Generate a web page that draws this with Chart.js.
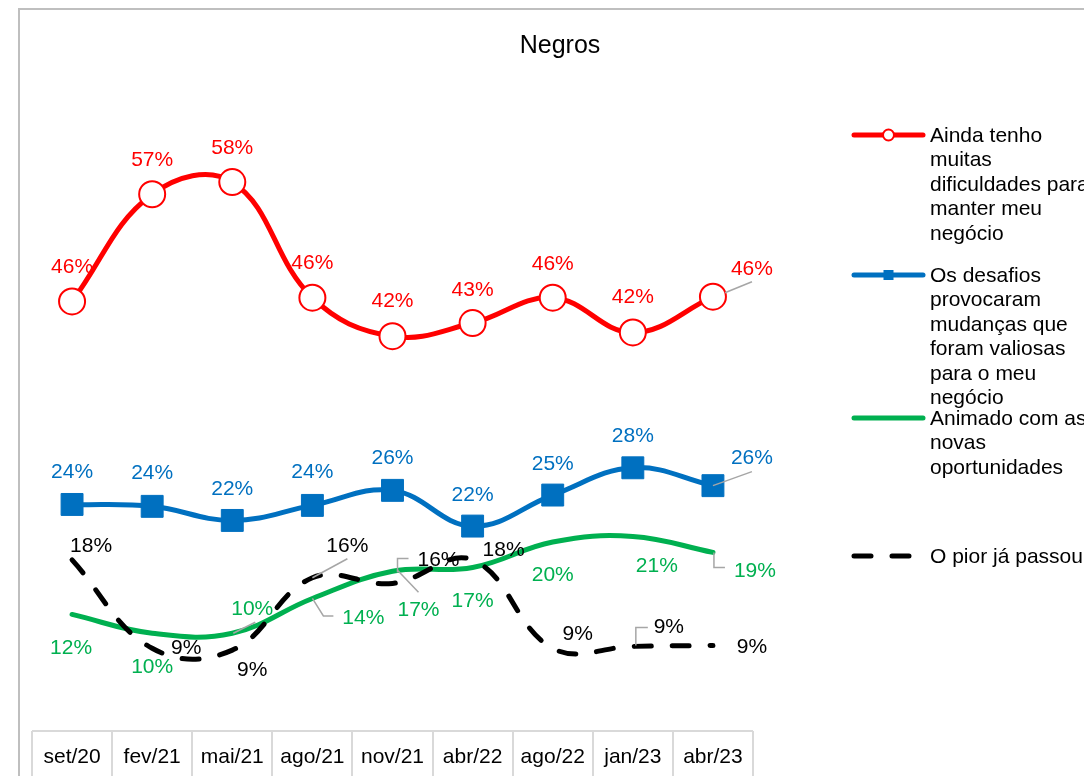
<!DOCTYPE html>
<html>
<head>
<meta charset="utf-8">
<script src="https://cdn.jsdelivr.net/npm/chart.js@4/dist/chart.umd.min.js"></script>
<style>
html,body{margin:0;padding:0;background:#fff;}
#wrap{width:1084px;height:776px;position:relative;overflow:hidden;}
canvas{display:block;}
</style>
</head>
<body>
<div id="wrap"><canvas id="c" width="1084" height="776"></canvas></div>
<script>
// ---- data ----
const categories = ['set/20','fev/21','mai/21','ago/21','nov/21','abr/22','ago/22','jan/23','abr/23'];
const aindaDificuldades = [45.7, 57.1, 58.4, 46.1, 42.0, 43.4, 46.1, 42.4, 46.2];
const desafiosValiosos  = [24.1, 23.9, 22.4, 24.0, 25.6, 21.8, 25.1, 28.0, 26.1];
const animadoOportun    = [12.4, 10.4, 10.4, 14.1, 17.0, 17.4, 20.1, 20.7, 19.0];
const piorJaPassou      = [18.2, 8.8, 8.6, 16.3, 15.7, 18.2, 8.8, 9.0, 9.1];
const seriesNames = [
  'Ainda tenho muitas dificuldades para manter meu negócio',
  'Os desafios provocaram mudanças que foram valiosas para o meu negócio',
  'Animado com as novas oportunidades',
  'O pior já passou'
];
const legendLines = [
  ['Ainda tenho','muitas','dificuldades para','manter meu','negócio'],
  ['Os desafios','provocaram','mudanças que','foram valiosas','para o meu','negócio'],
  ['Animado com as','novas','oportunidades'],
  ['O pior já passou']
];
const chartTitle = 'Negros';

// ---- styles / label layout ----
const colors = ['#FF0000', '#0070C0', '#00B050', '#000000'];
const FONT = '"Liberation Sans", Arial, sans-serif';
const leaderColor = '#A6A6A6';
// per series, per point: [dx, dy] of label centre from point, optional leader (list of [dx,dy] from point)
const labelLayout = [
  { off: [[0,-36],[0,-36],[0,-36],[0,-36],[0,-37],[0,-35],[0,-35],[0,-37],[39,-30]],
    lead: {8: [[12,-4],[39,-15]]} },
  { off: [[0,-34],[0,-35],[0,-33],[0,-35],[0,-34],[0,-33],[0,-33],[0,-34],[39,-29]],
    lead: {8: [[0,0],[39,-14]]} },
  { off: [[-1,32],[0,32],[20,-26],[51,18],[26,37],[0,32],[0,31],[24,28],[42,17]],
    lead: {2: [[1,0],[23,-11]], 3: [[0,0],[11,17.5],[21,17.5]], 4: [[5,-1],[26,21]], 8: [[1,0],[1,15],[12,15]]} },
  { off: [[19,-16],[34,-2],[20,18],[35,-34],[46,-25],[31,-12],[25,-16],[36,-21],[39,0]],
    lead: {3: [[0,0],[35,-19]], 4: [[5,-11],[5,-25],[16,-25]], 7: [[3,-1],[3,-19],[15,-19]]} }
];

const decorPlugin = {
  id: 'decor',
  afterDatasetsDraw(chart) {
    const ctx = chart.ctx;
    const xs = chart.scales.x, ys = chart.scales.y;
    ctx.save();
    chart.data.datasets.forEach((ds, si) => {
      const lay = labelLayout[si];
      ds.data.forEach((v, i) => {
        const px = xs.getPixelForValue(i), py = ys.getPixelForValue(v);
        const lead = lay.lead[i];
        if (lead) {
          ctx.strokeStyle = leaderColor; ctx.lineWidth = 1.5; ctx.setLineDash([]);
          ctx.beginPath();
          lead.forEach((p, k) => { if (k === 0) ctx.moveTo(px + p[0], py + p[1]); else ctx.lineTo(px + p[0], py + p[1]); });
          ctx.stroke();
        }
        const o = lay.off[i];
        ctx.fillStyle = colors[si];
        ctx.font = '21px ' + FONT;
        ctx.textAlign = 'center'; ctx.textBaseline = 'middle';
        ctx.fillText(Math.round(v) + '%', px + o[0], py + o[1] + 2);
      });
    });
    ctx.restore();
  },
  afterDraw(chart) {
    const ctx = chart.ctx;
    const xs = chart.scales.x, ca = chart.chartArea;
    ctx.save();
    // outer border
    ctx.strokeStyle = '#BFBFBF'; ctx.lineWidth = 2;
    ctx.strokeRect(19, 9, 1200, 900);
    // title
    ctx.fillStyle = '#000'; ctx.font = '25px ' + FONT;
    ctx.textAlign = 'center'; ctx.textBaseline = 'middle';
    ctx.fillText(chartTitle, 560, 46);
    // data table (category axis)
    const n = categories.length;
    const w = (ca.right - ca.left) / n;
    const top = ca.bottom;
    ctx.strokeStyle = '#D9D9D9'; ctx.lineWidth = 2;
    ctx.beginPath();
    ctx.moveTo(ca.left, top); ctx.lineTo(ca.right, top);
    for (let k = 0; k <= n; k++) {
      const x = Math.round(ca.left + k * w);
      ctx.moveTo(x, top); ctx.lineTo(x, 790);
    }
    ctx.stroke();
    ctx.fillStyle = '#000'; ctx.font = '21px ' + FONT;
    categories.forEach((c, i) => ctx.fillText(c, xs.getPixelForValue(i), top + 26));
    // legend
    const lx0 = 852, lx1 = 925, tx = 930, lh = 24.5;
    const ly = [135, 275, 418, 556];
    chart.data.datasets.forEach((ds, si) => {
      const y = ly[si];
      ctx.strokeStyle = colors[si]; ctx.lineWidth = 5; ctx.lineCap = 'round';
      ctx.setLineDash(ds.borderDash || []);
      ctx.beginPath(); ctx.moveTo(lx0 + 2, y); ctx.lineTo(lx1 - 2, y); ctx.stroke();
      ctx.setLineDash([]);
      const mx = (lx0 + lx1) / 2;
      if (si === 0) {
        ctx.fillStyle = '#fff'; ctx.lineWidth = 2;
        ctx.beginPath(); ctx.arc(mx, y, 5.5, 0, Math.PI * 2); ctx.fill(); ctx.stroke();
      } else if (si === 1) {
        ctx.fillStyle = colors[1]; ctx.fillRect(mx - 5, y - 5, 10, 10);
      }
      ctx.fillStyle = '#000'; ctx.font = '21px ' + FONT;
      ctx.textAlign = 'left'; ctx.textBaseline = 'middle';
      legendLines[si].forEach((t, k) => ctx.fillText(t, tx, y + 1 + k * lh));
    });
    ctx.restore();
  }
};

new Chart(document.getElementById('c'), {
  type: 'line',
  data: {
    labels: categories,
    datasets: [
      { label: seriesNames[0], data: aindaDificuldades, borderColor: colors[0], borderWidth: 5,
        pointRadius: 13, pointBackgroundColor: '#fff', pointBorderColor: colors[0], pointBorderWidth: 2,
        tension: 0.4, borderCapStyle: 'round', order: 1, clip: false },
      { label: seriesNames[1], data: desafiosValiosos, borderColor: colors[1], borderWidth: 5,
        pointStyle: 'rect', pointRadius: 15.5, pointBackgroundColor: colors[1], pointBorderColor: colors[1], pointBorderWidth: 1,
        tension: 0.4, borderCapStyle: 'round', order: 2, clip: false },
      { label: seriesNames[2], data: animadoOportun, borderColor: colors[2], borderWidth: 5,
        pointRadius: 0, tension: 0.4, borderCapStyle: 'round', order: 4, clip: false },
      { label: seriesNames[3], data: piorJaPassou, borderColor: colors[3], borderWidth: 5,
        borderDash: [17, 21], borderCapStyle: 'round',
        pointRadius: 0, tension: 0.4, order: 3, clip: false }
    ]
  },
  options: {
    responsive: false,
    animation: false,
    events: [],
    layout: { padding: { left: 32, right: 331, top: 73, bottom: 45 } },
    scales: {
      x: { display: false, offset: true },
      y: { display: false, min: 0, max: 70 }
    },
    plugins: { legend: { display: false }, title: { display: false }, tooltip: { enabled: false } }
  },
  plugins: [decorPlugin]
});
</script>
</body>
</html>
